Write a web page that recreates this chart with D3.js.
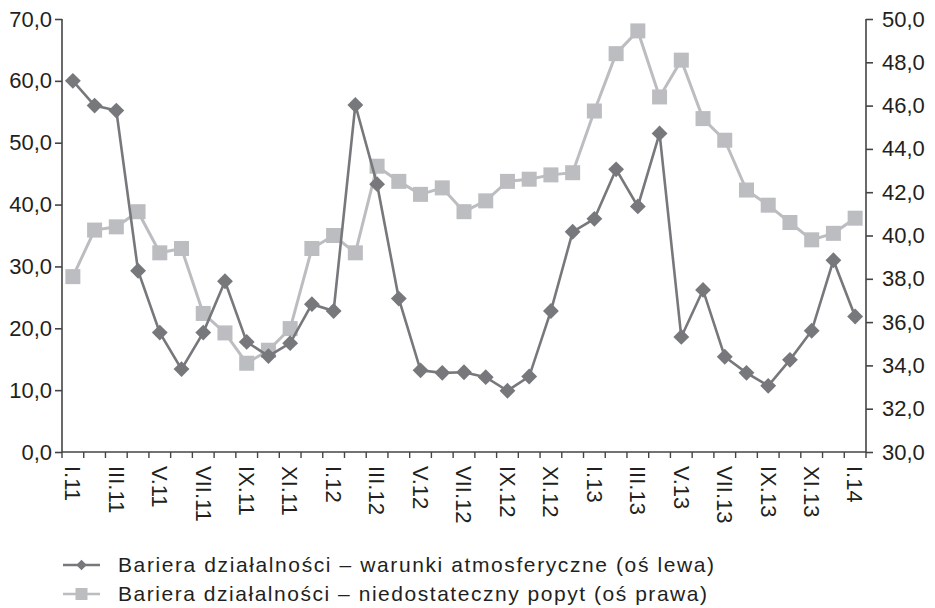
<!DOCTYPE html>
<html><head><meta charset="utf-8">
<script src="https://cdn.jsdelivr.net/npm/d3@7"></script>
<style>body{margin:0;background:#fff}svg{display:block}text{font-family:"Liberation Sans",Arial,sans-serif;fill:#231f20}</style>
</head><body><svg id="c" width="935" height="608"></svg>
<script>
const months = ["I.11","II.11","III.11","IV.11","V.11","VI.11","VII.11","VIII.11","IX.11","X.11","XI.11","XII.11",
"I.12","II.12","III.12","IV.12","V.12","VI.12","VII.12","VIII.12","IX.12","X.12","XI.12","XII.12",
"I.13","II.13","III.13","IV.13","V.13","VI.13","VII.13","VIII.13","IX.13","X.13","XI.13","XII.13","I.14"];
const weatherBarrier = [60.0,56.0,55.2,29.3,19.3,13.4,19.3,27.6,17.8,15.5,17.6,23.9,
22.8,56.1,43.3,24.8,13.2,12.8,12.9,12.1,9.9,12.2,22.8,35.6,
37.7,45.7,39.7,51.5,18.6,26.2,15.4,12.8,10.7,14.9,19.6,31.0,21.9];
const demandBarrier = [38.1,40.25,40.4,41.1,39.2,39.4,36.4,35.5,34.1,34.7,35.7,39.4,
40.0,39.2,43.2,42.5,41.9,42.2,41.1,41.6,42.5,42.6,42.8,42.9,
45.75,48.4,49.45,46.4,48.1,45.4,44.4,42.1,41.4,40.6,39.8,40.1,40.8];
const leftTicks = [0,10,20,30,40,50,60,70];
const rightTicks = [30,32,34,36,38,40,42,44,46,48,50];
const seriesNames = ["Bariera działalności – warunki atmosferyczne (oś lewa)","Bariera działalności – niedostateczny popyt (oś prawa)"];

const svg = d3.select("#c");
const L=62, R=866, T=19, B=452;
const x = d3.scaleBand().domain(months).range([L,R]);
const yL = d3.scaleLinear().domain([0,70]).range([B,T]);
const yR = d3.scaleLinear().domain([30,50]).range([B,T]);
const fmt = d => d.toFixed(1).replace(".",",");
const dark="#77787c", light="#bcbdc1";

// axes
const gL = svg.append("g").attr("transform",`translate(${L},0)`)
  .call(d3.axisLeft(yL).tickValues(leftTicks).tickFormat(fmt).tickSize(7).tickPadding(3));
const gR = svg.append("g").attr("transform",`translate(${R},0)`)
  .call(d3.axisRight(yR).tickValues(rightTicks).tickFormat(fmt).tickSize(7).tickPadding(9));
[gL,gR].forEach(g=>{g.selectAll("path,line").attr("stroke","#444").attr("stroke-width",1.6);
  g.selectAll("text").style("font-size","22px").attr("fill","#231f20");});
gL.select(".domain").attr("d",`M0,${T}V${B}`);
gR.select(".domain").attr("d",`M0,${T}V${B}`);

const gX = svg.append("g").attr("transform",`translate(0,${B})`);
gX.append("line").attr("x1",L).attr("x2",R).attr("stroke","#444").attr("stroke-width",1.6);
const bounds = months.map(m=>x(m)).concat([R]);
gX.selectAll("line.t").data(bounds).join("line").attr("class","t")
  .attr("x1",d=>d).attr("x2",d=>d).attr("y1",0).attr("y2",6).attr("stroke","#444").attr("stroke-width",1.4);
gX.selectAll("text").data(months.filter((m,i)=>i%2===0)).join("text")
  .attr("transform",d=>`translate(${x(d)+x.bandwidth()/2},14) rotate(90)`)
  .attr("dy","0.35em").attr("text-anchor","start").style("font-size","22px").text(d=>d);

// series
const cx = m => x(m)+x.bandwidth()/2;
const lineL = d3.line().x((d,i)=>cx(months[i])).y(d=>yL(d));
const lineR = d3.line().x((d,i)=>cx(months[i])).y(d=>yR(d));
svg.append("path").attr("d",lineR(demandBarrier)).attr("fill","none").attr("stroke",light).attr("stroke-width",3);
svg.selectAll("rect.sq").data(demandBarrier).join("rect").attr("class","sq")
  .attr("x",(d,i)=>cx(months[i])-7.5).attr("y",d=>yR(d)-7.5).attr("width",15).attr("height",15).attr("fill",light);
svg.append("path").attr("d",lineL(weatherBarrier)).attr("fill","none").attr("stroke",dark).attr("stroke-width",2.6);
const dia = d3.symbol().type(d3.symbolDiamond2).size(160);
svg.selectAll("path.dm").data(weatherBarrier).join("path").attr("class","dm")
  .attr("transform",(d,i)=>`translate(${cx(months[i])},${yL(d)})`)
  .attr("d",dia).attr("fill",dark);

// legend
const lg = svg.append("g");
const legendLens = [596, 589];
[[dark,"d"],[light,"s"]].forEach(([c,t],k)=>{
  const yy = 565 + k*29;
  lg.append("line").attr("x1",63).attr("x2",100).attr("y1",yy).attr("y2",yy).attr("stroke",c).attr("stroke-width",2.6);
  if(t==="d") lg.append("path").attr("transform",`translate(81.5,${yy})`).attr("d",d3.symbol().type(d3.symbolDiamond2).size(70)).attr("fill",c);
  else lg.append("rect").attr("x",75.5).attr("y",yy-6).attr("width",12).attr("height",12).attr("fill",c);
  lg.append("text").attr("x",118).attr("y",yy).attr("dy","0.35em").style("font-size","21px")
    .attr("textLength",legendLens[k]).attr("lengthAdjust","spacing").text(seriesNames[k]);
});
</script></body></html>
